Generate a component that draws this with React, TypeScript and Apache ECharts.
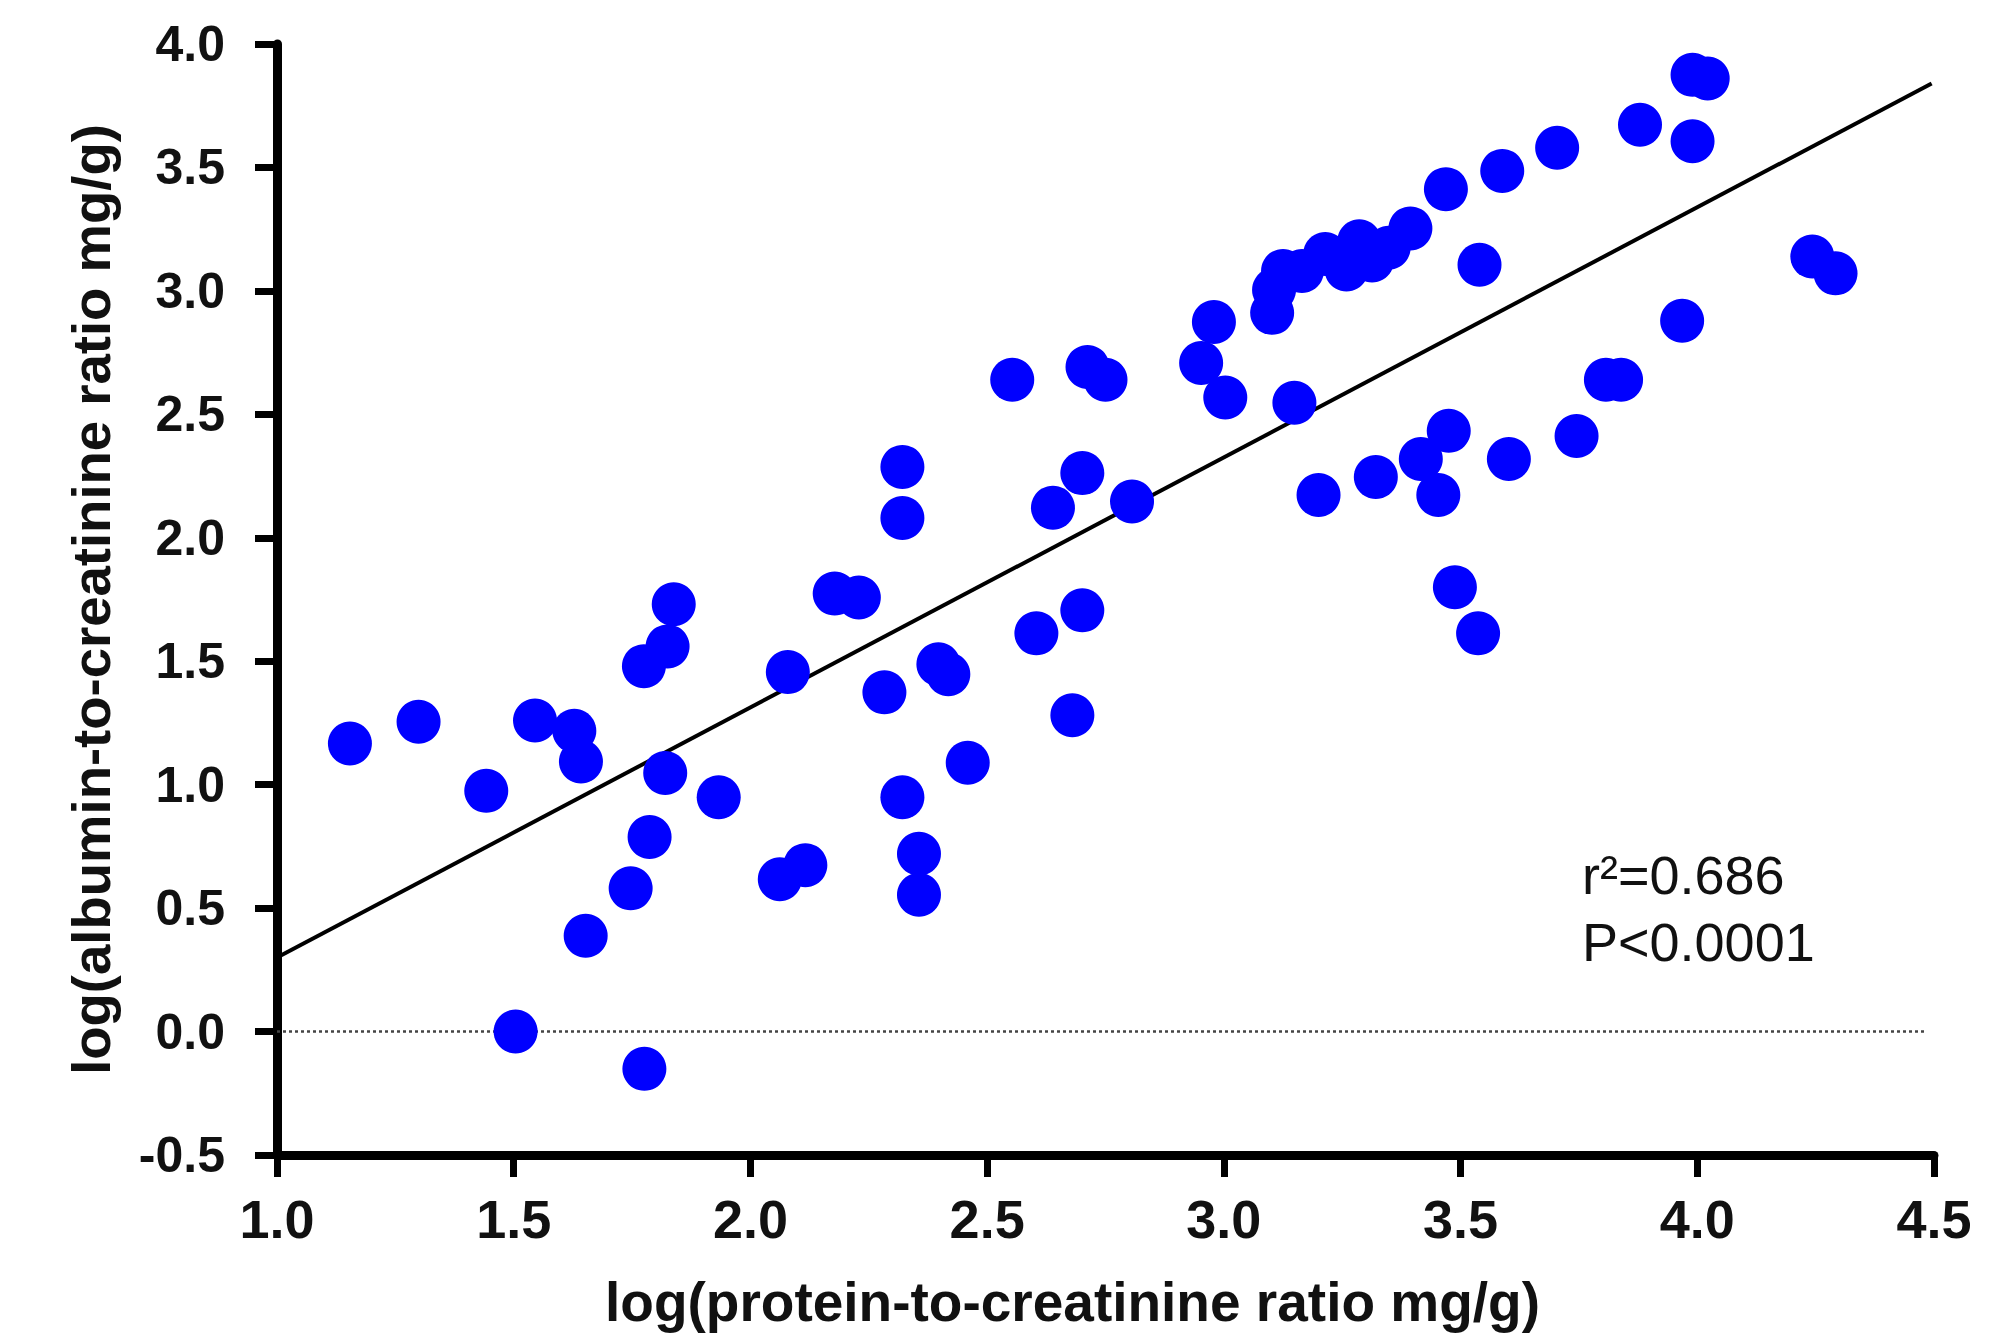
import React, { useEffect, useRef } from "react";
import * as echarts from "echarts";

const xTicks = [1.0, 1.5, 2.0, 2.5, 3.0, 3.5, 4.0, 4.5];
const yTicks = [-0.5, 0.0, 0.5, 1.0, 1.5, 2.0, 2.5, 3.0, 3.5, 4.0];

const pcr = [
  1.154, 1.299, 1.442, 1.545, 1.628, 1.642, 1.504, 1.652, 1.747, 1.787,
  1.776, 1.775, 1.825, 1.838, 1.82, 1.933, 2.079, 2.062, 2.116, 2.178,
  2.229, 2.283, 2.321, 2.321, 2.321, 2.356, 2.356, 2.397, 2.418, 2.459,
  2.553, 2.604, 2.639, 2.701, 2.701, 2.68, 2.712, 2.75, 2.806, 2.952,
  2.979, 3.003, 3.102, 3.106, 3.125, 3.165, 3.149, 3.2, 3.214, 3.259,
  3.286, 3.313, 3.348, 3.394, 3.321, 3.416, 3.453, 3.475, 3.469, 3.54,
  3.488, 3.537, 3.588, 3.602, 3.704, 3.745, 3.807, 3.839, 3.879, 3.968,
  3.99, 3.99, 4.022, 4.243, 4.292,
];
const acr = [
  1.167, 1.255, 0.975, 1.26, 1.218, 1.094, 0.0, 0.388, 0.58, 0.788,
  -0.151, 1.48, 1.56, 1.731, 1.047, 0.949, 1.456, 0.617, 0.674, 1.774,
  1.758, 1.374, 2.287, 2.08, 0.949, 0.72, 0.554, 1.488, 1.447, 1.089,
  2.64, 1.613, 2.122, 2.262, 1.706, 1.281, 2.692, 2.64, 2.147, 2.708,
  2.874, 2.568, 2.911, 3.004, 3.081, 3.081, 2.547, 2.173, 3.149, 3.087,
  3.201, 3.123, 3.175, 3.253, 2.246, 2.319, 2.173, 2.433, 3.412, 3.106,
  1.8, 1.613, 3.486, 2.319, 3.58, 2.412, 2.64, 2.64, 3.673, 2.879,
  3.606, 3.875, 3.86, 3.139, 3.071,
];

const fitX = [1.0, 4.495];
const fitY = [0.3, 3.84];
const zeroX = [1.0, 4.48];
const zeroY = [0.0, 0.0];

const statLines = ["r²=0.686", "P<0.0001"];

const xTitle = "log(protein-to-creatinine ratio mg/g)";
const yTitle = "log(albumin-to-creatinine ratio mg/g)";

const FONT = "'Liberation Sans', Arial, Helvetica, sans-serif";

export default function App() {
  const ref = useRef<HTMLDivElement>(null);
  useEffect(() => {
    if (!ref.current) return;
    const chart = echarts.init(ref.current, undefined, { renderer: "svg" });
    const points = pcr.map((x, i) => [x, acr[i]]);
    const fit = fitX.map((x, i) => [x, fitY[i]]);
    const zero = zeroX.map((x, i) => [x, zeroY[i]]);
    chart.setOption({
      animation: false,
      backgroundColor: "#ffffff",
      grid: { left: 277, right: 68, top: 44, bottom: 184, containLabel: false },
      xAxis: {
        type: "value",
        min: xTicks[0],
        max: xTicks[xTicks.length - 1],
        interval: 0.5,
        name: xTitle,
        nameLocation: "middle",
        nameGap: 147,
        nameTextStyle: {
          fontFamily: FONT,
          fontWeight: "bold",
          fontSize: 55,
          color: "#111",
          verticalAlign: "middle",
          padding: [0, 66, 0, 0],
        },
        axisLine: { show: true, onZero: false, lineStyle: { color: "#000", width: 9 } },
        axisTick: { show: true, inside: false, length: 22, lineStyle: { color: "#000", width: 7 } },
        axisLabel: {
          margin: 37,
          fontFamily: FONT,
          fontWeight: "bold",
          fontSize: 54,
          color: "#111",
          formatter: (v: number) => v.toFixed(1),
        },
        splitLine: { show: false },
      },
      yAxis: {
        type: "value",
        min: yTicks[0],
        max: yTicks[yTicks.length - 1],
        interval: 0.5,
        name: yTitle,
        nameLocation: "middle",
        nameGap: 186,
        nameRotate: 90,
        nameTextStyle: {
          fontFamily: FONT,
          fontWeight: "bold",
          fontSize: 54.5,
          color: "#111",
          verticalAlign: "middle",
        },
        axisLine: { show: true, onZero: false, lineStyle: { color: "#000", width: 9 } },
        axisTick: { show: true, inside: false, length: 22, lineStyle: { color: "#000", width: 7 } },
        axisLabel: {
          margin: 52,
          fontFamily: FONT,
          fontWeight: "bold",
          fontSize: 50,
          color: "#111",
          formatter: (v: number) => v.toFixed(1),
        },
        splitLine: { show: false },
      },
      series: [
        {
          type: "line",
          data: zero,
          symbol: "none",
          lineStyle: { color: "#444", width: 2.5, type: [3, 3] },
          z: 1,
        },
        {
          type: "line",
          data: fit,
          symbol: "none",
          lineStyle: { color: "#000", width: 4 },
          z: 2,
        },
        {
          type: "scatter",
          data: points,
          symbol: "circle",
          symbolSize: 44,
          itemStyle: { color: "#0000ff", opacity: 1 },
          z: 3,
        },
      ],
      graphic: statLines.map((t, i) => ({
        type: "text",
        x: 1582,
        y: 875 + i * 67,
        style: {
          text: t,
          fontFamily: FONT,
          fontSize: 54,
          fill: "#111",
          align: "left",
          verticalAlign: "middle",
        },
      })),
    });
    return () => chart.dispose();
  }, []);
  return (
    <div
      ref={ref}
      style={{ position: "fixed", left: 0, top: 0, width: 2002, height: 1339, background: "#fff" }}
    />
  );
}
